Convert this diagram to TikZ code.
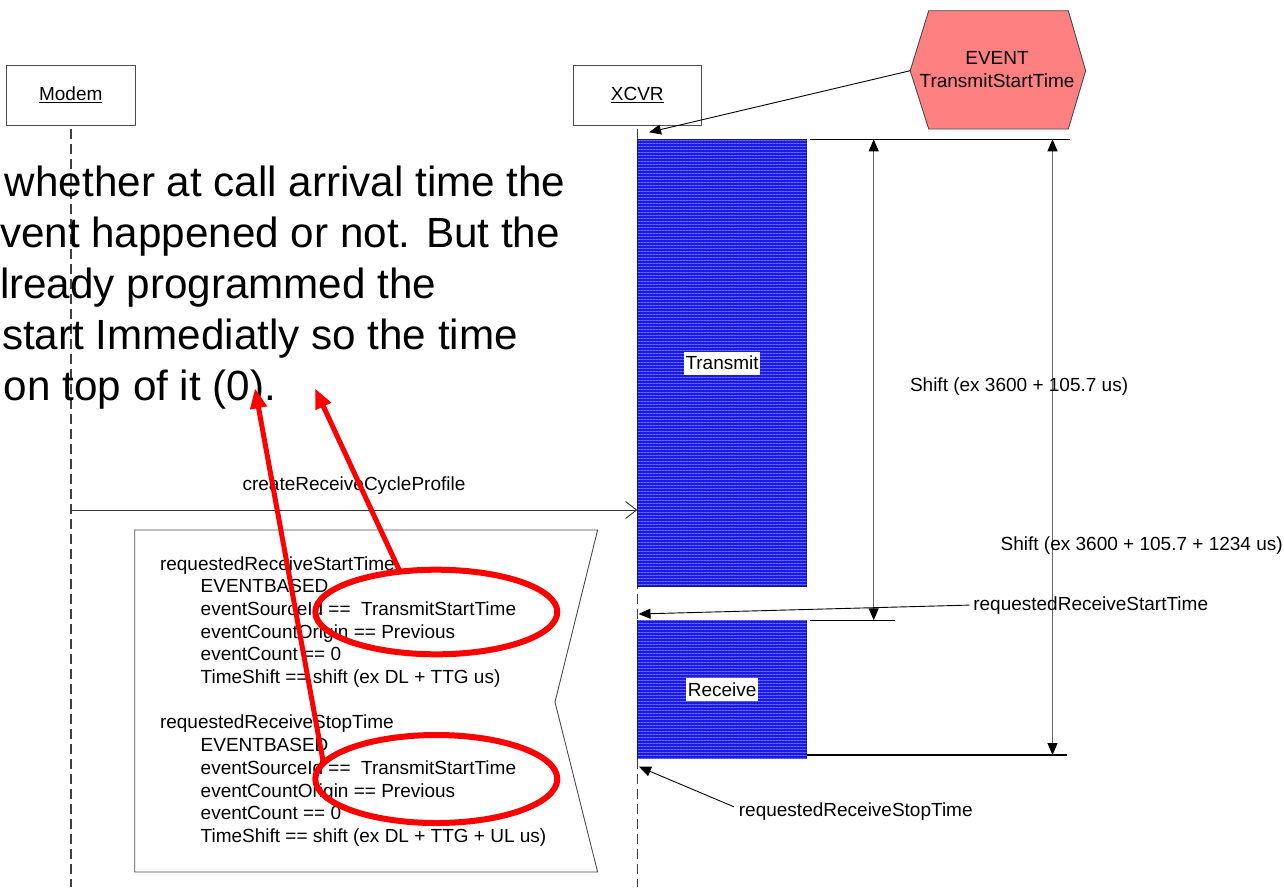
\documentclass[tikz,border=0pt]{standalone}
\usepackage{fontspec}
\setmainfont{Liberation Sans}
\usetikzlibrary{arrows.meta,patterns.meta,shapes.geometric}
\definecolor{barblue}{RGB}{25,25,232}
\definecolor{barline}{RGB}{105,105,255}
\definecolor{baredge}{RGB}{20,20,100}
\definecolor{eventfill}{RGB}{255,128,128}
\begin{document}
\begin{tikzpicture}[x=1pt,y=-1pt,
  font=\fontsize{19}{22.7}\selectfont,
  every node/.style={inner sep=0pt, outer sep=0pt},
  objbox/.style={draw=black!70, line width=0.9pt, minimum height=60pt},
  lifeline/.style={draw=black!75, line width=1.5pt, dash pattern=on 10pt off 5pt},
  actbar/.style={draw=baredge, line width=0.9pt, fill=barblue,
    postaction={pattern={Lines[angle=0,distance=3pt,line width=0.9pt]}, pattern color=barline}},
  barlabel/.style={fill=white, inner xsep=1.5pt, minimum height=23pt},
  pointer/.style={draw=black, line width=0.9pt, -{Triangle[length=12pt,width=10pt]}},
  msg/.style={draw=black!80, line width=0.9pt, -{Straight Barb[length=11pt,width=17pt,line width=0.9pt]}},
  dimarrow/.style={draw=black!60, line width=1pt,
    {Triangle[length=12pt,width=10pt,color=black,fill=black]}-{Triangle[length=12pt,width=10pt,color=black,fill=black]}},
  tickline/.style={draw=black, line width=1.4pt},
  notebox/.style={draw=black!70, line width=0.9pt, fill=white},
  remark/.style={draw=red, line width=6pt, ellipse},
  remarkarrow/.style={draw=red, line width=5pt, -{Triangle[length=20pt,width=16pt]}},
  bigtext/.style={font=\fontsize{42.2}{51}\selectfont}
]
\useasboundingbox (0,0) rectangle (1284,887);

% objects and their lifelines
\node[objbox, minimum width=129pt] (modem) at (70.75,95) {\underline{Modem}};
\node[objbox, minimum width=128.6pt] (xcvr) at (637.3,95) {\underline{XCVR}};
\coordinate (modemEnd) at (70.75,887);
\coordinate (xcvrEnd) at (637.3,887);
\draw[lifeline] ([yshift=-4pt]modem.south) -- (modemEnd);
\draw[lifeline] ([yshift=-4pt]xcvr.south) -- (xcvrEnd);

% transmit / receive activity bars
\node[actbar, anchor=north west, minimum width=168.8pt, minimum height=447.4pt] (txbar) at (637.7,139.3) {};
\node[actbar, anchor=north west, minimum width=168.8pt, minimum height=137.8pt] (rxbar) at (637.7,620.5) {};
\node[barlabel] (txlabel) at (txbar.center) {Transmit};
\node[barlabel] (rxlabel) at (rxbar.center) {Receive};

% event hexagon
\draw[draw=black!70, line width=0.9pt, fill=eventfill]
  (928.7,10.7) -- (1068.3,10.7) -- (1085.6,70.7) -- (1068.3,129) -- (928.7,129) -- (910.2,70.7) -- cycle;
\node[align=center] (event) at (997,69.4) {EVENT\\TransmitStartTime};
\coordinate (evL) at (910.2,70.7);
\coordinate (evTip) at (649,132.3);
\draw[pointer] (evL) -- (evTip);

% timing dimensions
\coordinate (t0) at (809.6,139.3); \coordinate (t1) at (1070,139.3);
\coordinate (r0) at (809.6,620.3); \coordinate (r1) at (895,620.3);
\coordinate (b0) at (806.5,755);   \coordinate (b1) at (1067,755);
\draw[tickline] (t0) -- (t1);
\draw[tickline] (r0) -- (r1);
\draw[tickline] (b0) -- (b1);
\coordinate (d1a) at (873.7,139.3); \coordinate (d1b) at (873.7,620.3);
\coordinate (d2a) at (1052.5,139.3); \coordinate (d2b) at (1052.5,755);
\draw[dimarrow] (d1a) -- (d1b);
\draw[dimarrow] (d2a) -- (d2b);
\node[anchor=base west] (shift1) at (910,391.7) {Shift (ex 3600 + 105.7 us)};
\node[anchor=base west] (shift2) at (1000.7,550) {Shift (ex 3600 + 105.7 + 1234 us)};

% requested receive start / stop pointers
\node[anchor=base west] (rsLabel) at (973.3,610) {requestedReceiveStartTime};
\coordinate (rsTip) at (638.5,614);
\draw[pointer] ([xshift=-4pt]rsLabel.west) -- (rsTip);
\node[anchor=base west] (rpLabel) at (738.9,816.7) {requestedReceiveStopTime};
\coordinate (rpTip) at (639,766.7);
\draw[pointer] ([xshift=-5pt,yshift=5pt]rpLabel.west) -- (rpTip);

% message
\coordinate (msgY) at (0,510);
\draw[msg] (modem |- msgY) -- (xcvr |- msgY);
\node[anchor=base] (msgLabel) at (354,490) {createReceiveCycleProfile};

% note with the parameters
\draw[notebox] (134.7,530) -- (597.6,530) -- (555,702) -- (597.6,872) -- (134.7,872) -- cycle;
\node[anchor=base west] (noteText) at (160,570) {\begin{tabular}[t]{@{}l@{}}
requestedReceiveStartTime\\
\hspace*{40.7pt}EVENTBASED\\
\hspace*{40.7pt}eventSourceId == \ TransmitStartTime\\
\hspace*{40.7pt}eventCountOrigin == Previous\\
\hspace*{40.7pt}eventCount == 0\\
\hspace*{40.7pt}TimeShift == shift (ex DL + TTG us)\\
\\
requestedReceiveStopTime\\
\hspace*{40.7pt}EVENTBASED\\
\hspace*{40.7pt}eventSourceId == \ TransmitStartTime\\
\hspace*{40.7pt}eventCountOrigin == Previous\\
\hspace*{40.7pt}eventCount == 0\\
\hspace*{40.7pt}TimeShift == shift (ex DL + TTG + UL us)
\end{tabular}};

% remark text
\node[bigtext, anchor=base west] (remarkText) at (0,196.7) {\begin{tabular}[t]{@{}l@{}}
\hspace*{5pt}whether at call arrival time the\\
vent happened or not. But the\\
lready programmed the\\
\hspace*{2pt}start Immediatly so the time\\
\hspace*{4pt}on top of it (0).
\end{tabular}};

% red highlights
\node[remark, minimum width=242pt, minimum height=84.6pt] (hl1) at (436.3,612) {};
\node[remark, minimum width=242pt, minimum height=88pt] (hl2) at (436.3,779) {};
\coordinate (tip1) at (315,388.3);
\coordinate (tip2) at (255,388.3);
\draw[remarkarrow] (hl1.132) -- (tip1);
\draw[remarkarrow] (hl2.172) -- (tip2);
\end{tikzpicture}
\end{document}
